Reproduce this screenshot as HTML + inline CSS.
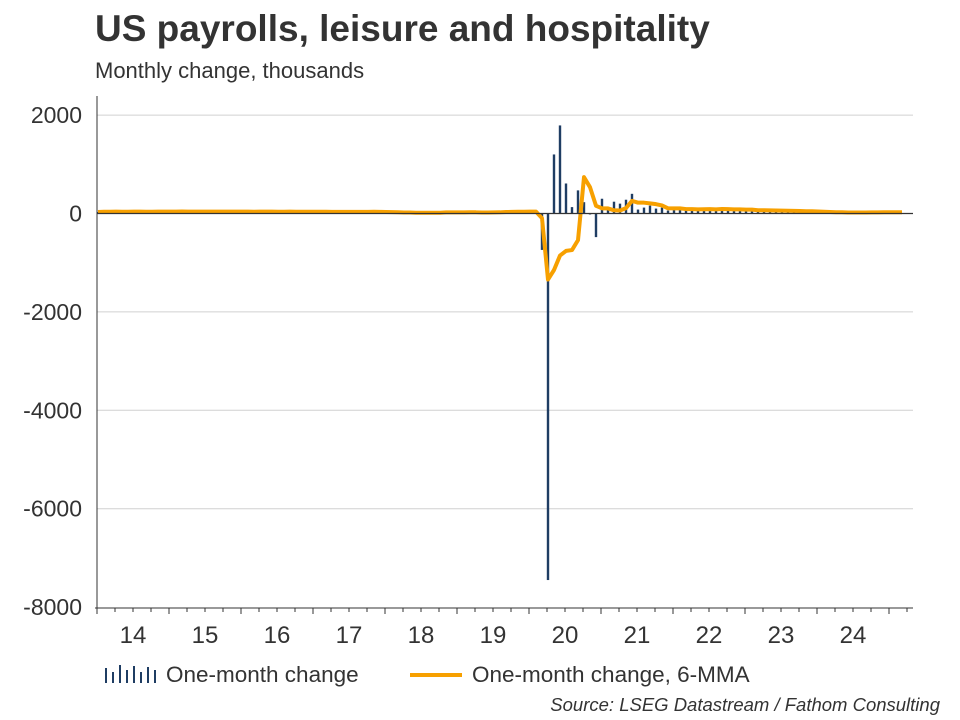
<!DOCTYPE html>
<html><head><meta charset="utf-8"><style>
body{margin:0;background:#fff;font-family:"Liberation Sans",Arial,sans-serif;}
#wrap{position:relative;width:960px;height:720px;overflow:hidden;}
</style></head><body>
<div id="wrap">
<svg id="chart" width="960" height="720" xmlns="http://www.w3.org/2000/svg">
<text x="95" y="41" font-size="37" font-weight="bold" fill="#333">US payrolls, leisure and hospitality</text>
<text x="95" y="78" font-size="22" fill="#333">Monthly change, thousands</text>
<g id="grid"></g><g id="bars"></g><g id="line"></g><g id="axes"></g>
<g>
<g>
<g stroke="#1f3d63" stroke-width="2">
<line x1="106" y1="683" x2="106" y2="668"/><line x1="113" y1="683" x2="113" y2="672"/><line x1="120" y1="683" x2="120" y2="665"/><line x1="127" y1="683" x2="127" y2="670"/><line x1="134" y1="683" x2="134" y2="666"/><line x1="141" y1="683" x2="141" y2="672"/><line x1="148" y1="683" x2="148" y2="667"/><line x1="155" y1="683" x2="155" y2="670"/>
</g>
<text x="166" y="682" font-size="22.5" fill="#333">One-month change</text></g>
<g>
<line x1="410" y1="675" x2="462" y2="675" stroke="#f7a000" stroke-width="4"/>
<text x="472" y="682" font-size="22.5" fill="#333">One-month change, 6-MMA</text></g>
</g>
<text x="940" y="711" font-size="18.5" font-style="italic" fill="#333" text-anchor="end">Source: LSEG Datastream / Fathom Consulting</text>
</svg></div>
<script>
const yearLabels=["14","15","16","17","18","19","20","21","22","23","24"];
const yTicks=[2000,0,-2000,-4000,-6000,-8000];
const monthlyChange=[
30,40,35,45,30,40,35,40,30,45,40,35,
40,35,45,30,40,35,40,45,35,40,30,45,
35,40,30,45,35,40,30,35,40,35,30,40,
30,40,35,30,25,40,35,30,35,40,30,35,
15,20,10,15,25,10,15,20,10,15,60,15,
20,15,25,10,30,20,35,25,60,30,40,30,
40,30,-740,-7450,1200,1790,610,130,470,230,-20,-480,
300,120,240,200,280,400,80,120,160,100,120,60,
70,110,80,90,100,70,80,90,120,70,80,60,
60,80,50,70,60,40,50,60,40,50,30,40,
20,30,10,20,30,10,20,30,10,40,20,30,
30,20,10];
const ns="http://www.w3.org/2000/svg";
const X0=97,X1=913,MW=6,Y0=213.5,PPU=49.2/1000;
const x=i=>X0+MW*i+1;
const y=v=>Y0-v*PPU;
function mk(t,a,p){const e=document.createElementNS(ns,t);for(const k in a)e.setAttribute(k,a[k]);p.appendChild(e);return e;}
const grid=document.getElementById('grid'),axes=document.getElementById('axes');
yTicks.forEach(v=>{
 if(v!==0&&v!==-8000){const g=mk('line',{x1:X0,x2:X1,y1:y(v),y2:y(v),stroke:'#d0d0d0','stroke-width':1},grid);
 
 }
 const t=mk('text',{x:82,y:y(v)+8,'font-size':23,fill:'#333','text-anchor':'end'},axes);t.textContent=v;
 
 
});
const zl=mk('line',{x1:X0,x2:X1,y1:Y0,y2:Y0,stroke:'#333','stroke-width':1.2},axes);


const ya=mk('line',{x1:X0,x2:X0,y1:96,y2:608,stroke:'#333','stroke-width':1},axes);


const xa=mk('line',{x1:X0-2,x2:X1,y1:608,y2:608,stroke:'#333','stroke-width':1},axes);


for(let q=0;q<=46;q++){const xx=X0+q*18;if(xx>X1)break;
 mk('line',{x1:xx,x2:xx,y1:608,y2:q%4===0?614:612,stroke:'#333','stroke-width':1},axes);}
yearLabels.forEach((l,i)=>{const t=mk('text',{x:X0+72*i+36,y:643,'font-size':24,fill:'#333','text-anchor':'middle'},axes);t.textContent=l;
 
 });
const bars=document.getElementById('bars');
monthlyChange.forEach((v,i)=>{const r=mk('rect',{x:x(i)-1.2,y:Math.min(y(v),Y0),width:2.4,height:Math.abs(y(v)-Y0),fill:'#1f3d63'},bars);
 
 });
const ma=monthlyChange.map((v,i)=>{const s=monthlyChange.slice(Math.max(0,i-5),i+1);return s.reduce((a,b)=>a+b,0)/s.length;});
const p=mk('polyline',{points:ma.map((v,i)=>x(i)+','+y(v)).join(' '),fill:'none',stroke:'#f7a000','stroke-width':4,'stroke-linejoin':'round'},document.getElementById('line'));


</script></body></html>
